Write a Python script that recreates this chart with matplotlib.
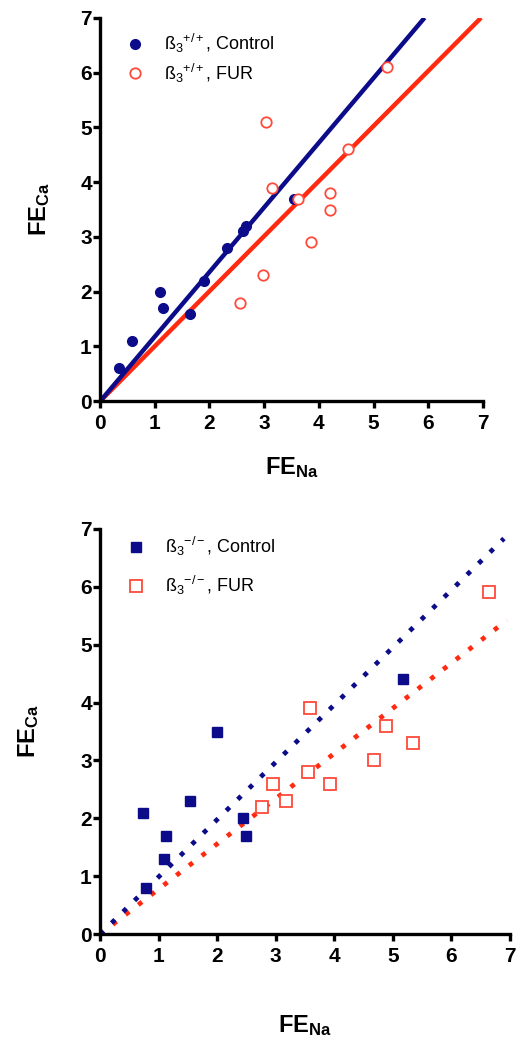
import matplotlib
matplotlib.use("Agg")
import matplotlib.pyplot as plt
import numpy as np

plt.rcParams['font.family'] = ['Liberation Sans', 'DejaVu Sans']
plt.rcParams['mathtext.fontset'] = 'custom'
plt.rcParams['mathtext.rm'] = 'Liberation Sans'
plt.rcParams['mathtext.bf'] = 'Liberation Sans:bold'
plt.rcParams['mathtext.it'] = 'Liberation Sans:italic'

BLUE = "#0c0c8a"
RED_LINE = "#ff2a10"
RED_MARK = "#ff4a3a"

# top panel: beta3 +/+
wt_ctrl_x = [0.35, 0.58, 1.10, 1.15, 1.65, 1.90, 2.32, 2.61, 2.67, 3.55]
wt_ctrl_y = [0.60, 1.10, 2.00, 1.70, 1.60, 2.20, 2.80, 3.10, 3.20, 3.70]
wt_fur_x = [2.56, 2.98, 3.03, 3.15, 3.62, 3.86, 4.20, 4.20, 4.53, 5.25]
wt_fur_y = [1.80, 2.30, 5.10, 3.90, 3.70, 2.90, 3.80, 3.50, 4.60, 6.10]
wt_ctrl_slope = 1.18
wt_fur_slope = 1.005

# bottom panel: beta3 -/-
ko_ctrl_x = [0.73, 0.78, 1.09, 1.13, 1.54, 2.00, 2.44, 2.49, 5.18]
ko_ctrl_y = [2.10, 0.80, 1.30, 1.70, 2.30, 3.50, 2.00, 1.70, 4.40]
ko_fur_x = [2.76, 2.96, 3.17, 3.55, 3.58, 3.92, 4.68, 4.88, 5.34, 6.64]
ko_fur_y = [2.20, 2.60, 2.30, 2.80, 3.90, 2.60, 3.00, 3.60, 3.30, 5.90]
ko_ctrl_slope = 0.99
ko_fur_slope = 0.78

ticks = [0, 1, 2, 3, 4, 5, 6, 7]

fig = plt.figure(figsize=(5.16, 10.45), dpi=100)
ax1 = fig.add_axes([0.194, 0.616, 0.742, 0.367])
ax2 = fig.add_axes([0.194, 0.106, 0.794, 0.388])


def style_axes(ax, labelpad_x, labelpad_y):
    ax.set_xlim(0, 7)
    ax.set_ylim(0, 7)
    ax.set_xticks(ticks)
    ax.set_yticks(ticks)
    for s in ["top", "right"]:
        ax.spines[s].set_visible(False)
    for s in ["left", "bottom"]:
        ax.spines[s].set_linewidth(2.4)
    ax.tick_params(width=2.4, length=5, labelsize=15)
    ax.tick_params(axis="x", pad=4)
    ax.tick_params(axis="y", pad=1)
    for lab in ax.get_xticklabels() + ax.get_yticklabels():
        lab.set_fontweight("bold")
    ax.set_xlabel(r"$\mathbf{FE_{Na}}$", fontsize=17, labelpad=labelpad_x)
    ax.set_ylabel(r"$\mathbf{FE_{Ca}}$", fontsize=17, labelpad=labelpad_y)


# top panel
xl = np.array([0, 7 / wt_ctrl_slope])
ax1.plot(xl, wt_ctrl_slope * xl, color=BLUE, lw=3.2, solid_capstyle="butt", zorder=2)
xl = np.array([0, 7 / wt_fur_slope])
ax1.plot(xl, wt_fur_slope * xl, color=RED_LINE, lw=3.2, solid_capstyle="butt", zorder=1)
ax1.plot(wt_ctrl_x, wt_ctrl_y, "o", color=BLUE, ms=7, mec=BLUE, ls="none",
         label=r"ß$_3$$^{+/+}$, Control", zorder=3)
ax1.plot(wt_fur_x, wt_fur_y, "o", mfc="white", mec=RED_MARK, mew=1.3, ms=7.5, ls="none",
         label=r"ß$_3$$^{+/+}$, FUR", zorder=3)
style_axes(ax1, 16, 20)
ax1.legend(loc="upper left", frameon=False, fontsize=13, bbox_to_anchor=(0.012, 1.005),
           handletextpad=0.8, labelspacing=0.35, handlelength=1.6)

# bottom panel
xl = np.array([0, 6.9])
ax2.plot(xl, ko_ctrl_slope * xl, color=BLUE, lw=3.4, ls=(0, (1, 2.4)), zorder=2)
xl = np.array([0, 6.95])
ax2.plot(xl, ko_fur_slope * xl, color=RED_LINE, lw=3.4, ls=(0, (1, 2.4)), zorder=1)
ax2.plot(ko_ctrl_x, ko_ctrl_y, "s", color=BLUE, ms=7.5, ls="none",
         label=r"ß$_3$$^{-/-}$, Control", zorder=3)
ax2.plot(ko_fur_x, ko_fur_y, "s", mfc="white", mec=RED_MARK, mew=1.3, ms=8, ls="none",
         label=r"ß$_3$$^{-/-}$, FUR", zorder=3)
style_axes(ax2, 34, 28)
ax2.legend(loc="upper left", frameon=False, fontsize=13, bbox_to_anchor=(0.012, 1.025),
           handletextpad=0.8, labelspacing=0.9, handlelength=1.6)

fig.savefig("out.png", dpi=100)
